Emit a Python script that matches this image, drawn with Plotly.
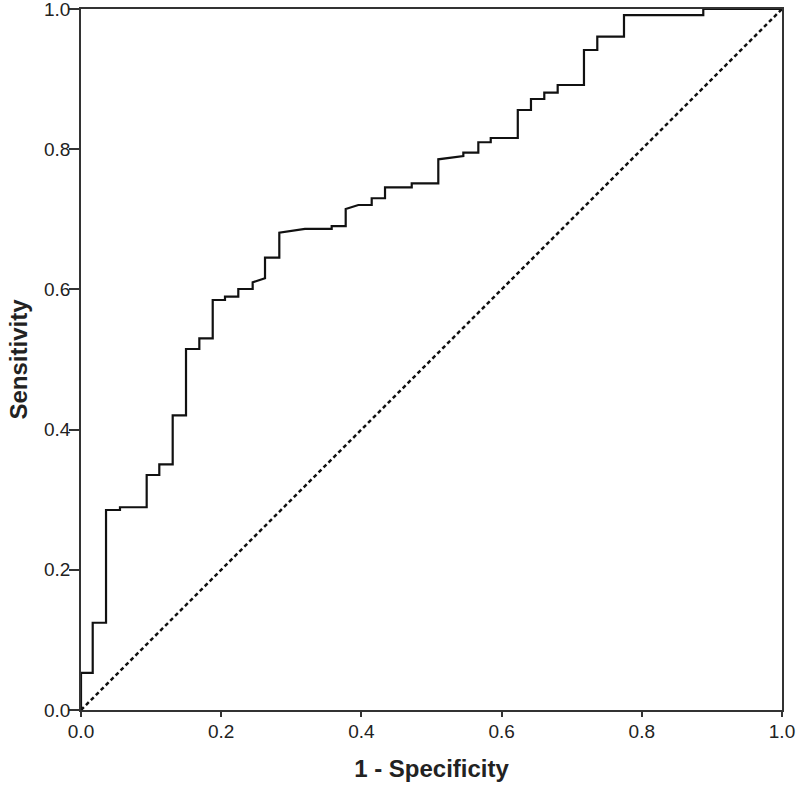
import plotly.graph_objects as go

# ROC curve vertices (1 - specificity, sensitivity)
fpr = [0.0, 0.0, 0.0167, 0.0167, 0.0357, 0.0357, 0.0556, 0.0556, 0.0937, 0.0937,
       0.1117, 0.1117, 0.1308, 0.1308, 0.1498, 0.1498, 0.1688, 0.1688, 0.1879, 0.1879,
       0.2054, 0.2054, 0.2244, 0.2244, 0.2449, 0.2449, 0.2625, 0.2625, 0.2829, 0.2829,
       0.3195, 0.3576, 0.3576, 0.3776, 0.3776, 0.3956, 0.4147, 0.4147, 0.4337, 0.4337,
       0.4718, 0.4718, 0.5097, 0.5097, 0.5454, 0.5454, 0.5668, 0.5668, 0.5845, 0.5845,
       0.6231, 0.6231, 0.6419, 0.6419, 0.6609, 0.6609, 0.6800, 0.6800, 0.7175, 0.7175,
       0.7365, 0.7365, 0.7746, 0.7746, 0.8877, 0.8877, 1.0]
tpr = [0.0, 0.053, 0.053, 0.1245, 0.1245, 0.2853, 0.2853, 0.2892, 0.2892, 0.3352,
       0.3352, 0.3505, 0.3505, 0.4204, 0.4204, 0.5150, 0.5150, 0.5302, 0.5302, 0.5849,
       0.5849, 0.5896, 0.5896, 0.6006, 0.6006, 0.6101, 0.6158, 0.6452, 0.6452, 0.6809,
       0.6862, 0.6862, 0.6904, 0.6904, 0.7147, 0.7204, 0.7204, 0.7300, 0.7300, 0.7456,
       0.7456, 0.7513, 0.7513, 0.7856, 0.7903, 0.7950, 0.7950, 0.8099, 0.8099, 0.8160,
       0.8160, 0.8559, 0.8559, 0.8716, 0.8716, 0.8806, 0.8806, 0.8916, 0.8916, 0.9415,
       0.9415, 0.9605, 0.9605, 0.9914, 0.9914, 1.0, 1.0]

# Reference line
ref_x = [0.0, 1.0]
ref_y = [0.0, 1.0]

tick_vals = [0.0, 0.2, 0.4, 0.6, 0.8, 1.0]
tick_text = ["0.0", "0.2", "0.4", "0.6", "0.8", "1.0"]

fig = go.Figure()
fig.add_trace(go.Scatter(x=ref_x, y=ref_y, mode="lines",
                         line=dict(color="#111111", width=2.5, dash="4px,3px"),
                         hoverinfo="skip", showlegend=False))
fig.add_trace(go.Scatter(x=fpr, y=tpr, mode="lines",
                         line=dict(color="#111111", width=2.2),
                         showlegend=False))

font_family = "Liberation Sans, Arial, sans-serif"
fig.update_layout(
    width=800, height=789,
    margin=dict(l=81, r=18, t=9, b=79),
    paper_bgcolor="white", plot_bgcolor="white",
    font=dict(family=font_family, color="#222222"),
)
fig.update_xaxes(
    range=[0, 1], tickvals=tick_vals, ticktext=tick_text,
    showgrid=False, zeroline=False, automargin=False,
    showline=True, linecolor="#333333", linewidth=1.5, mirror=True,
    ticks="outside", ticklen=5, tickwidth=1.5, tickcolor="#333333",
    ticklabeloverflow="allow", ticklabelstandoff=-2,
    tickfont=dict(size=19, family=font_family, color="#222222"),
    title=dict(text="<b>1 - Specificity</b>", font=dict(size=24, family=font_family, color="#222222"),
               standoff=20),
)
fig.update_yaxes(
    range=[0, 1], tickvals=tick_vals, ticktext=tick_text,
    showgrid=False, zeroline=False, automargin=False,
    showline=True, linecolor="#333333", linewidth=1.5, mirror=True,
    ticks="outside", ticklen=10, tickwidth=1.5, tickcolor="#333333",
    ticklabeloverflow="allow", ticklabelstandoff=-5,
    tickfont=dict(size=19, family=font_family, color="#222222"),
    title=dict(text="<b>Sensitivity</b>", font=dict(size=24, family=font_family, color="#222222"),
               standoff=10),
)

fig.write_html("out.html",
               config={"displayModeBar": False},
               post_script="document.body.style.margin='0';document.body.style.overflow='hidden';")
